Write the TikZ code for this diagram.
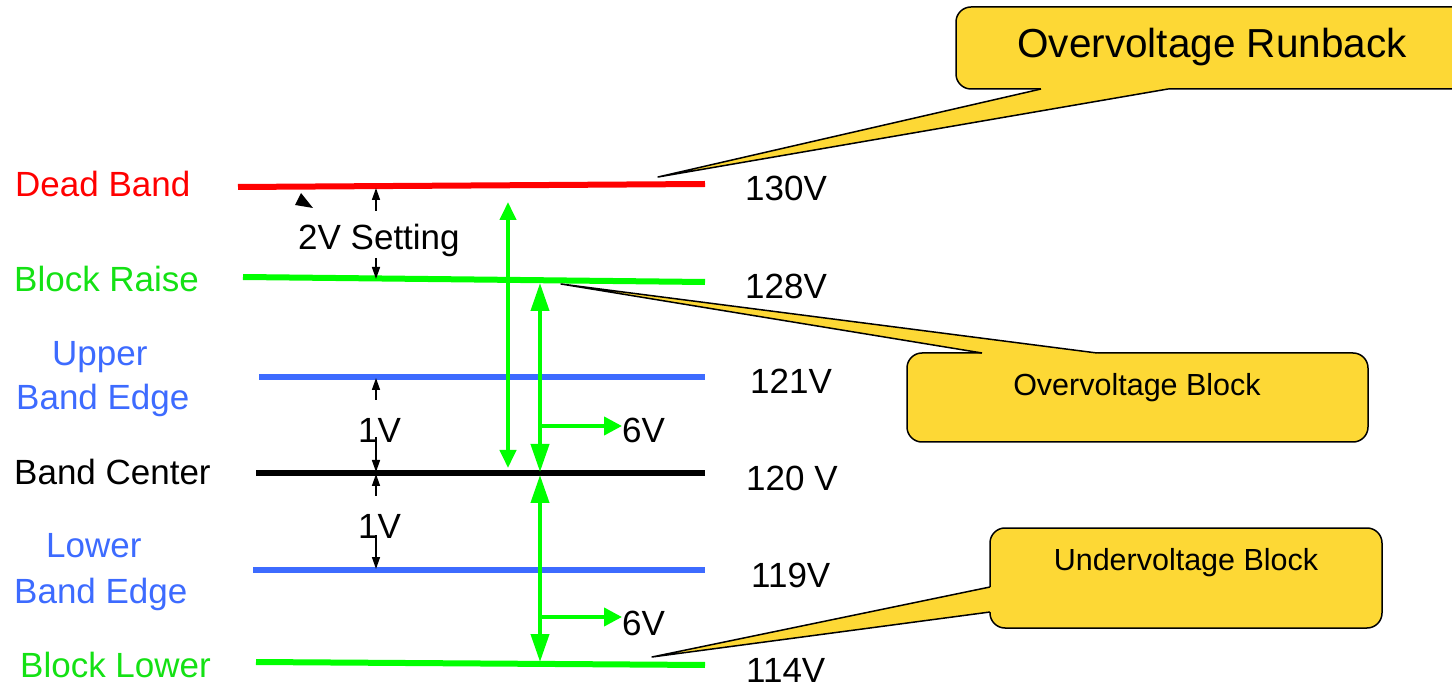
\documentclass[tikz,border=0pt]{standalone}
\usepackage{fontspec}
\setmainfont{Liberation Sans}
\usetikzlibrary{arrows.meta,calc}
\definecolor{lred}{RGB}{255,0,0}
\definecolor{lgreen}{RGB}{0,255,0}
\definecolor{tgreen}{RGB}{20,225,20}
\definecolor{lblue}{RGB}{61,107,255}
\definecolor{cyellow}{RGB}{253,216,53}
\begin{document}
\begin{tikzpicture}[x=1pt,y=-1pt,
  level/.style={line width=6pt},
  lbl/.style={anchor=base west,inner sep=0pt,font=\fontsize{35}{42}\selectfont},
  garrowA/.style={draw=lgreen,line width=4pt,{Triangle[width=16pt,length=18pt]}-{Triangle[width=16pt,length=18pt]}},
  garrowB/.style={draw=lgreen,line width=4pt,{Triangle[width=18pt,length=28pt]}-{Triangle[width=18pt,length=28pt]}},
  garrowH/.style={draw=lgreen,line width=4pt,-{Triangle[width=18pt,length=18pt]}},
  barrow/.style={draw=black,line width=1.5pt,-{Triangle[width=8pt,length=12pt]}},
  callbox/.style={draw=black,line width=1.5pt,fill=cyellow,rounded corners=15pt,inner sep=0pt},
  tailfill/.style={fill=cyellow},
  tailline/.style={draw=black,line width=1.5pt,line join=round},
  calltext/.style={inner sep=0pt,anchor=center}
]
\useasboundingbox (0,0) rectangle (1452,684);
\clip (0,0) rectangle (1452,684);

% level lines
\coordinate (db-l) at (238,187); \coordinate (db-r) at (705,184);
\coordinate (br-l) at (243,277); \coordinate (br-r) at (705,282);
\coordinate (ub-l) at (259,377); \coordinate (ub-r) at (705,377);
\coordinate (bc-l) at (256,473); \coordinate (bc-r) at (705,473);
\coordinate (lb-l) at (253,570); \coordinate (lb-r) at (705,570);
\coordinate (bl-l) at (256,662); \coordinate (bl-r) at (705,665);
\draw[level,lred] (db-l) -- (db-r);
\draw[level,lgreen] (br-l) -- (br-r);
\draw[level,lblue] (ub-l) -- (ub-r);
\draw[level,black] (bc-l) -- (bc-r);
\draw[level,lblue] (lb-l) -- (lb-r);
\draw[level,lgreen] (bl-l) -- (bl-r);

% left labels
\node[lbl,text=lred] (tdb) at (15,197) {Dead Band};
\node[lbl,text=tgreen] (tbr) at (14,292) {Block Raise};
\node[lbl,text=lblue] (tup) at (52,366) {Upper};
\node[lbl,text=lblue] (tube) at (16,410) {Band Edge};
\node[lbl,text=black] (tbc) at (14,485) {Band Center};
\node[lbl,text=lblue] (tlo) at (46,558) {Lower};
\node[lbl,text=lblue] (tlbe) at (14,603) {Band Edge};
\node[lbl,text=tgreen] (tbl) at (20,677) {Block Lower};

% right labels
\node[lbl] (v130) at (745,201) {130V};
\node[lbl] (v128) at (745,299) {128V};
\node[lbl] (v121) at (750,394) {121V};
\node[lbl] (v120) at (746,491) {120 V};
\node[lbl] (v119) at (751,587) {119V};
\node[lbl] (v114) at (746,682) {114V};

% small black arrows
\node[lbl] (t2v) at (298,250) {2V Setting};
\coordinate (a1s) at (376,211); \coordinate (a1e) at (376,188);
\coordinate (a2s) at (376,258); \coordinate (a2e) at (376,279);
\coordinate (a3s) at (376,400); \coordinate (a3e) at (376,378);
\coordinate (a4s) at (376,437); \coordinate (a4e) at (376,472);
\coordinate (a5s) at (376,496); \coordinate (a5e) at (376,474);
\coordinate (a6s) at (376,535); \coordinate (a6e) at (376,569);
\draw[barrow] (a1s) -- (a1e);
\draw[barrow] (a2s) -- (a2e);
\draw[barrow] (a3s) -- (a3e);
\draw[barrow] (a4s) -- (a4e);
\draw[barrow] (a5s) -- (a5e);
\draw[barrow] (a6s) -- (a6e);
\node[lbl] (t1va) at (358,443) {1V};
\node[lbl] (t1vb) at (358,538) {1V};
\fill[black] (295,205) -- (301,193) -- (313,208) -- cycle;

% green arrows
\coordinate (gA1) at (508,202); \coordinate (gA2) at (508,468);
\coordinate (gB1) at (540,283); \coordinate (gB2) at (540,472);
\coordinate (gC1) at (540,475); \coordinate (gC2) at (540,662);
\coordinate (gH1s) at (540,426); \coordinate (gH1e) at (622,426);
\coordinate (gH2s) at (540,617); \coordinate (gH2e) at (622,617);
\draw[garrowA] (gA1) -- (gA2);
\draw[garrowB] (gB1) -- (gB2);
\draw[garrowB] (gC1) -- (gC2);
\draw[garrowH] (gH1s) -- (gH1e);
\draw[garrowH] (gH2s) -- (gH2e);
\node[lbl] (t6va) at (622,443) {6V};
\node[lbl] (t6vb) at (622,635) {6V};

% callout: Overvoltage Runback
\node[callbox,minimum width=520pt,minimum height=82pt] (runback) at (1216,48) {};
\node[calltext,font=\fontsize{40.5}{48}\selectfont] (truns) at (1212,47) {Overvoltage Runback};
\coordinate (r1) at (1041,89); \coordinate (r2) at (1168,89); \coordinate (rt) at (658,177);
\fill[tailfill] (r1) -- (rt) -- (r2) -- (1168,86) -- (1041,86) -- cycle;
\draw[tailline] (r1) -- (rt) -- (r2);

% callout: Overvoltage Block
\node[callbox,minimum width=461pt,minimum height=89pt] (ovbox) at (1137.5,397.5) {};
\node[calltext,font=\fontsize{30.5}{36}\selectfont] (tov) at (1137,388) {Overvoltage Block};
\coordinate (o1) at (982,353); \coordinate (o2) at (1097,353); \coordinate (ot) at (561,284);
\fill[tailfill] (o1) -- (ot) -- (o2) -- (1097,356) -- (982,356) -- cycle;
\draw[tailline] (o1) -- (ot) -- (o2);

% callout: Undervoltage Block
\node[callbox,minimum width=392pt,minimum height=100pt] (uvbox) at (1186,578) {};
\node[calltext,font=\fontsize{30.5}{36}\selectfont] (tuv) at (1186,563) {Undervoltage Block};
\coordinate (u1) at (990,587); \coordinate (u2) at (990,612); \coordinate (ut) at (652,657);
\fill[tailfill] (u1) -- (ut) -- (u2) -- (993,612) -- (993,587) -- cycle;
\draw[tailline] (u1) -- (ut) -- (u2);
\end{tikzpicture}
\end{document}
